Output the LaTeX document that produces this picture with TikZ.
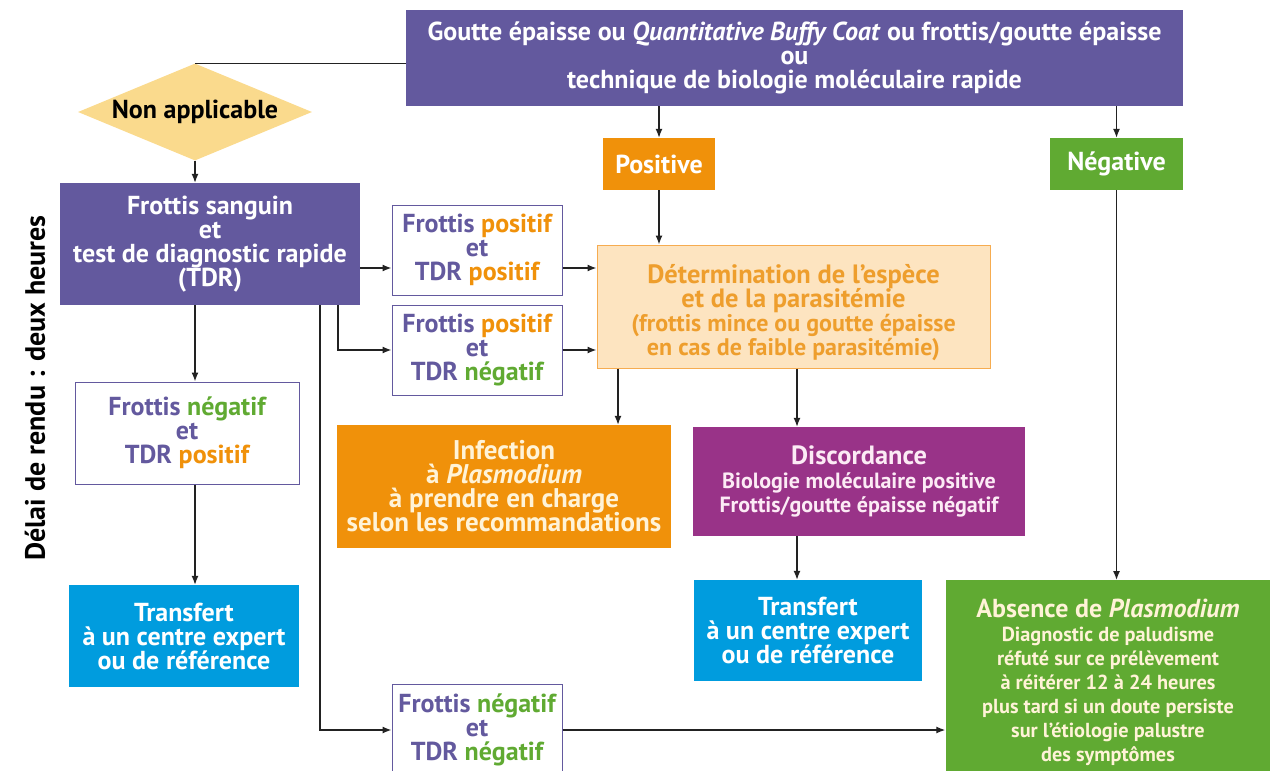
\documentclass[tikz,border=0pt]{standalone}
\usepackage{fontspec}
\setmainfont{PT Sans}
\usetikzlibrary{arrows.meta,shapes.geometric}
\definecolor{pur}{RGB}{99,89,158}
\definecolor{yel}{RGB}{250,218,141}
\definecolor{org}{RGB}{240,145,10}
\definecolor{grn}{RGB}{96,170,50}
\definecolor{blu}{RGB}{0,156,222}
\definecolor{mag}{RGB}{153,51,136}
\definecolor{detfill}{RGB}{253,228,192}
\definecolor{detdraw}{RGB}{246,172,80}
\definecolor{dettxt}{RGB}{238,158,45}
\definecolor{lineC}{RGB}{34,34,34}
\definecolor{cream}{RGB}{255,243,215}
\definecolor{pinkw}{RGB}{252,235,245}
\tikzset{
  box/.style={inner sep=0pt, align=center, font=\bfseries\fontsize{26}{24}\selectfont},
  wbox/.style={box, draw=pur, line width=1pt, fill=white, text=pur},
  arr/.style={-{Latex[length=9pt,width=7pt]}, line width=1.3pt, draw=lineC},
  ln/.style={line width=1.3pt, draw=lineC},
}
\newcommand{\mypos}{\textcolor{org}{positif}}
\newcommand{\myneg}{\textcolor{grn}{négatif}}
\newcommand{\detsm}{\fontsize{24}{25}\selectfont}
\newcommand{\dissm}{\fontsize{22}{24}\selectfont}
\newcommand{\abssm}{\fontsize{20.3}{24.6}\selectfont}
\lineskiplimit=-50pt
\begin{document}
\lineskiplimit=-50pt
\begin{tikzpicture}[x=1pt,y=-1pt]
\useasboundingbox (0,0) rectangle (1270,771);
\node[box, fill=pur, text=white, minimum width=777pt, minimum height=96pt] (top) at (794.5,58)
  {Goutte épaisse ou \textit{Quantitative Buffy Coat} ou frottis/goutte épaisse\\ou\\technique de biologie moléculaire rapide};
\node[diamond, aspect=2.4, fill=yel, inner sep=0pt, minimum width=234pt, minimum height=97pt,
  font=\bfseries\fontsize{26}{24}\selectfont, text=black] (dia) at (195,112) {\raisebox{-2pt}{Non applicable}};
\node[box, fill=pur, text=white, minimum width=300pt, minimum height=122pt] (fs) at (210,244)
  {Frottis sanguin\\et\\test de diagnostic rapide\\(TDR)};
\node[wbox, minimum width=170pt, minimum height=90pt] (b1) at (477,250) {Frottis \mypos\\et\\TDR \mypos};
\node[wbox, minimum width=170pt, minimum height=90pt] (b2) at (477,350) {Frottis \mypos\\et\\TDR \myneg};
\node[wbox, minimum width=224pt, minimum height=102pt] (b3) at (187,433) {Frottis \myneg\\et\\TDR \mypos};
\node[box, fill=blu, text=white, minimum width=230pt, minimum height=102pt] (t1) at (184,636)
  {Transfert\\à un centre expert\\ou de référence};
\node[wbox, minimum width=170pt, minimum height=92pt] (b4) at (477,730) {Frottis \myneg\\et\\TDR \myneg};
\node[box, fill=org, text=white, minimum width=112pt, minimum height=52pt] (pos) at (659,164) {Positive};
\node[box, fill=grn, text=white, minimum width=133pt, minimum height=52pt] (neg) at (1116.5,164) {\raisebox{-2pt}{Négative}};
\node[box, fill=detfill, draw=detdraw, line width=1pt, minimum width=393pt, minimum height=123pt] (det) at (793.5,306.5) {};
\node[box, text=dettxt, anchor=north] (dettxt) at (793.5,264)
  {\fontsize{26.5}{24}\selectfont Détermination de l'espèce\\\fontsize{26.5}{24}\selectfont et de la parasitémie\\\detsm (frottis mince ou goutte épaisse\\\detsm en cas de faible parasitémie)};
\node[box, fill=org, text=cream, minimum width=334pt, minimum height=123pt, font=\bfseries\fontsize{27}{24}\selectfont] (inf) at (504,486.5)
  {Infection\\à \textit{Plasmodium}\\à prendre en charge\\selon les recommandations};
\node[box, fill=mag, text=pinkw, minimum width=332pt, minimum height=109pt] (dis) at (859,481.5)
  {\fontsize{26.4}{26}\selectfont Discordance\\\dissm Biologie moléculaire positive\\\dissm Frottis/goutte épaisse négatif};
\node[box, fill=blu, text=white, minimum width=228pt, minimum height=101pt] (t2) at (808,630.5)
  {Transfert\\à un centre expert\\ou de référence};
\node[box, fill=grn, minimum width=329pt, minimum height=200pt, anchor=north] (abs) at (1110,580) {};
\node[box, text=cream, anchor=north] (abstxt) at (1108,599)
  {\fontsize{26}{25}\selectfont Absence de \textit{Plasmodium}\\\abssm Diagnostic de paludisme\\\abssm réfuté sur ce prélèvement\\\abssm à réitérer 12 à 24 heures\\\abssm plus tard si un doute persiste\\\abssm sur l'étiologie palustre\\\abssm des symptômes};
\node[rotate=90, font=\bfseries\fontsize{28}{30}\selectfont, text=black] (lbl) at (35,388) {Délai de rendu : deux heures};
% connectors
\draw[ln] (dia.north) -- (dia.north -| top.west);
\draw[arr] (dia.south) -- (dia.south |- fs.north);
\draw[arr] (fs.south -| dia.south) -- (b3.north -| dia.south);
\draw[arr] (b3.south -| dia.south) -- (t1.north -| dia.south);
\draw[arr] (fs.east |- 0,268) -- (b1.west |- 0,268);
\draw[arr] (fs.south -| 338,0) |- (b2.west);
\draw[arr] (fs.south -| 320,0) |- (b4.west);
\draw[arr] (b1.east |- 0,268) -- (det.west |- 0,268);
\draw[arr] (b2.east) -- (b2.east -| det.west);
\draw[arr] (b4.east) -- (b4.east -| abs.west);
\draw[arr] (pos.north |- top.south) -- (pos.north);
\draw[arr] (neg.north |- top.south) -- (neg.north);
\draw[arr] (pos.south) -- (pos.south |- det.north);
\draw[arr] (neg.south) -- (neg.south |- abs.north);
\draw[arr] (det.south -| 618,0) -- (inf.north -| 618,0);
\draw[arr] (det.south -| 797,0) -- (dis.north -| 797,0);
\draw[arr] (dis.south -| 797,0) -- (t2.north -| 797,0);
\end{tikzpicture}
\end{document}
